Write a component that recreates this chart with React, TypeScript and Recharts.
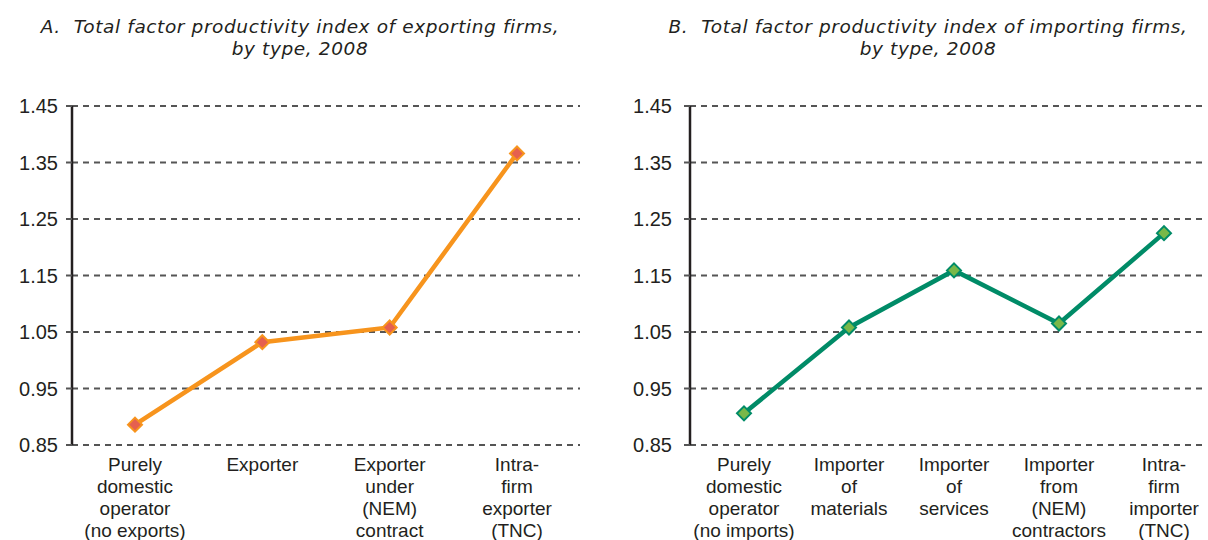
import { LineChart, Line, XAxis, YAxis, CartesianGrid } from "recharts";

const exportCategories = [
  "Purely\ndomestic\noperator\n(no exports)",
  "Exporter",
  "Exporter\nunder\n(NEM)\ncontract",
  "Intra-\nfirm\nexporter\n(TNC)",
];
const exportValues = [0.886, 1.032, 1.058, 1.366];

const importCategories = [
  "Purely\ndomestic\noperator\n(no imports)",
  "Importer\nof\nmaterials",
  "Importer\nof\nservices",
  "Importer\nfrom\n(NEM)\ncontractors",
  "Intra-\nfirm\nimporter\n(TNC)",
];
const importValues = [0.906, 1.058, 1.159, 1.065, 1.225];

const yTicks = [0.85, 0.95, 1.05, 1.15, 1.25, 1.35, 1.45];

const exportData = exportCategories.map((name, i) => ({ name, value: exportValues[i] }));
const importData = importCategories.map((name, i) => ({ name, value: importValues[i] }));

const FONT = "'Liberation Sans', Arial, sans-serif";

const MultiLineTick = (props: any) => {
  const { x, y, payload } = props;
  const lines = String(payload.value).split("\n");
  return (
    <g transform={`translate(${x},${y})`}>
      <text textAnchor="middle" fill="#231f20" fontSize={19} fontFamily={FONT}>
        {lines.map((l, i) => (
          <tspan key={i} x={0} dy={i === 0 ? 18 : 22}>
            {l}
          </tspan>
        ))}
      </text>
    </g>
  );
};

const makeDiamond = (fill: string, stroke: string) => (props: any) => {
  const { cx, cy, index } = props;
  if (cx == null || cy == null) return null;
  const r = 7;
  return (
    <polygon
      key={index}
      points={`${cx},${cy - r} ${cx + r},${cy} ${cx},${cy + r} ${cx - r},${cy}`}
      fill={fill}
      stroke={stroke}
      strokeWidth={2}
    />
  );
};

const Title = ({ left, children }: { left: number; children: any }) => (
  <div
    style={{
      position: "absolute",
      left,
      top: 16,
      width: 600,
      textAlign: "center",
      fontFamily: "'DejaVu Sans', sans-serif",
      fontStyle: "italic",
      fontSize: 18.5,
      letterSpacing: 0.6,
      lineHeight: "22px",
      color: "#231f20",
    }}
  >
    {children}
  </div>
);

const Panel = ({
  data,
  width,
  yWidth,
  tickMargin,
  padding,
  right,
  color,
  markerFill,
}: any) => (
  <LineChart width={width} height={540} data={data} margin={{ top: 106, right, bottom: 0, left: 0 }}>
    <CartesianGrid vertical={false} stroke="#555" strokeWidth={2} strokeDasharray="6 5" />
    <XAxis
      dataKey="name"
      axisLine={false}
      tickLine={false}
      interval={0}
      padding={padding}
      tick={<MultiLineTick />}
      height={95}
    />
    <YAxis
      width={yWidth}
      domain={[0.85, 1.45]}
      ticks={yTicks}
      tickFormatter={(v: number) => v.toFixed(2)}
      axisLine={{ stroke: "#231f20", strokeWidth: 2.5 }}
      tickLine={{ stroke: "#555", strokeWidth: 2 }}
      tickSize={6}
      tickMargin={tickMargin}
      tick={{ fill: "#231f20", fontSize: 20, fontFamily: FONT }}
    />
    <Line
      type="linear"
      dataKey="value"
      stroke={color}
      strokeWidth={4.5}
      dot={makeDiamond(markerFill, color)}
      activeDot={false}
      isAnimationActive={false}
    />
  </LineChart>
);

export default function App() {
  return (
    <div style={{ position: "absolute", left: 0, top: 0, width: 1208, height: 540, background: "#fff" }}>
      <Title left={0}>
        A.&nbsp; Total factor productivity index of exporting firms,
        <br />
        by type, 2008
      </Title>
      <Title left={628}>
        B.&nbsp; Total factor productivity index of importing firms,
        <br />
        by type, 2008
      </Title>
      <div style={{ position: "absolute", left: 0, top: 0 }}>
        <Panel
          data={exportData}
          width={600}
          yWidth={72}
          tickMargin={8}
          padding={{ left: 63, right: 63 }}
          right={20}
          color="#f7941d"
          markerFill="#e5604f"
        />
      </div>
      <div style={{ position: "absolute", left: 600, top: 0 }}>
        <Panel
          data={importData}
          width={608}
          yWidth={90}
          tickMargin={12}
          padding={{ left: 54, right: 42 }}
          right={2}
          color="#008b67"
          markerFill="#79b849"
        />
      </div>
    </div>
  );
}
